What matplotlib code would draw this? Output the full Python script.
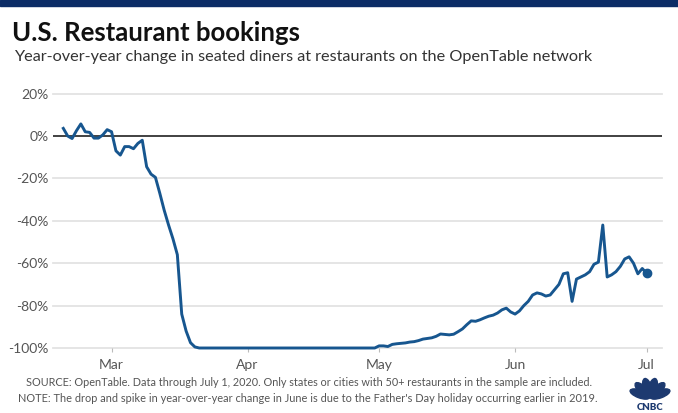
import matplotlib
matplotlib.use("Agg")
import matplotlib.pyplot as plt
from matplotlib.patches import Ellipse, Rectangle
import numpy as np
import pandas as pd

plt.rcParams['font.family'] = ['Lato', 'DejaVu Sans']

# daily year-over-year change (%), Feb 19 - Jul 1, 2020
feb = [3.6, 0, -1.2, 2.5, 5.7, 2, 1.7, -1, -1, 0.5, 3]
mar = [2, -7, -9, -5, -5, -6, -3.5, -2, -14.5, -18, -19.5, -27, -35, -42,
       -48.5, -56, -84, -92, -97.5, -99.5, -100, -100, -100, -100, -100,
       -100, -100, -100, -100, -100, -100]
apr = [-100, -100, -100, -100, -100, -100, -100, -100, -100, -100,
       -100, -100, -100, -100, -100, -100, -100, -100, -100, -100,
       -100, -100, -100, -100, -100, -100, -100, -100, -100, -100]
may = [-99, -99, -99.3, -98.3, -98, -97.8, -97.6, -97.2, -97, -96.5,
       -95.8, -95.5, -95.2, -94.5, -93.4, -93.6, -93.8, -93.5, -92.3, -91,
       -89, -87.2, -87.4, -86.7, -85.8, -85, -84.5, -83.5, -82, -81.2, -83]
jun = [-84, -82.5, -80, -78, -75, -74, -74.5, -75.5, -75, -72.5,
       -70, -65, -64.5, -78, -67.5, -66.5, -65.5, -64, -60.5, -59.5,
       -42, -66.5, -65.5, -64, -61.5, -58, -57, -60, -65, -62.5]
jul = [-64.8]

values = feb + mar + apr + may + jun + jul
dates = pd.date_range("2020-02-19", periods=len(values), freq="D")

month_ticks = pd.to_datetime(["2020-03-01", "2020-04-01", "2020-05-01",
                              "2020-06-01", "2020-07-01"])
month_labels = ["Mar", "Apr", "May", "Jun", "Jul"]
y_ticks = [20, 0, -20, -40, -60, -80, -100]
y_labels = ["20%", "0%", "-20%", "-40%", "-60%", "-80%", "-100%"]

title = "U.S. Restaurant bookings"
subtitle = "Year-over-year change in seated diners at restaurants on the OpenTable network"
source = "SOURCE: OpenTable. Data through July 1, 2020. Only states or cities with 50+ restaurants in the sample are included."
note = "NOTE: The drop and spike in year-over-year change in June is due to the Father's Day holiday occurring earlier in 2019."

W, H = 678, 413
fig = plt.figure(figsize=(W / 100, H / 100), dpi=100)
fig.patch.set_facecolor("white")

# top navy band
fig.patches.append(Rectangle((0, 1 - 6 / H), 1, 6 / H, transform=fig.transFigure,
                             color="#0c2c66", zorder=5))

fig.text(12 / W, 1 - 41 / H, title, fontsize=18.5, fontweight="bold",
         color="#111111", va="baseline")
fig.text(14 / W, 1 - 61 / H, subtitle, fontsize=11.7, color="#333333",
         va="baseline")

ax = fig.add_axes([53 / W, 1 - 348 / H, 609 / W, (348 - 93.6) / H])
ax.set_ylim(-100, 20)
x0 = dates[0] - pd.Timedelta(hours=2.35 * 24)
x1 = dates[-1] + pd.Timedelta(hours=3.5 * 24)
ax.set_xlim(x0, x1)

for yv in y_ticks:
    if yv == 0:
        ax.axhline(yv, color="#333333", lw=1.3, zorder=2)
    else:
        ax.axhline(yv, color="#e3e3e3", lw=1.3, zorder=1, clip_on=False)

ax.plot(dates, values, color="#17568f", lw=2.1, solid_joinstyle="round",
        zorder=3, clip_on=False)
ax.plot(dates[-1], values[-1], "o", color="#17568f", ms=6, zorder=4,
        clip_on=False)

for s in ax.spines.values():
    s.set_visible(False)

ax.set_yticks(y_ticks)
ax.set_yticklabels(y_labels)
ax.tick_params(axis="y", length=0, pad=3, labelsize=10, labelcolor="#555555")
ax.set_xticks(month_ticks)
ax.set_xticklabels(month_labels)
ax.tick_params(axis="x", length=3, width=0.8, color="#bbbbbb", pad=5,
               labelsize=10, labelcolor="#555555")

fig.text(309 / W, 1 - 383 / H, source, fontsize=7.85, color="#555555",
         ha="center", va="center")
fig.text(308 / W, 1 - 398 / H, note, fontsize=7.9, color="#555555",
         ha="center", va="center")

# simple CNBC peacock mark
lax = fig.add_axes([627 / W, 1 - 412 / H, 46 / W, 35 / H])
lax.set_xlim(-1.1, 1.1)
lax.set_ylim(-0.75, 1.05)
lax.axis("off")
navy = "#1d3a70"
for ang in [22, 48, 76, 104, 132, 158]:
    r = np.deg2rad(ang)
    lax.add_patch(Ellipse((0.52 * np.cos(r), 0.52 * np.sin(r) - 0.02), 1.0, 0.4,
                          angle=ang, color=navy))
lax.text(0, -0.5, "CNBC", fontsize=7, fontweight="heavy", color=navy,
         ha="center", va="center")

fig.savefig("out.png", dpi=100)
